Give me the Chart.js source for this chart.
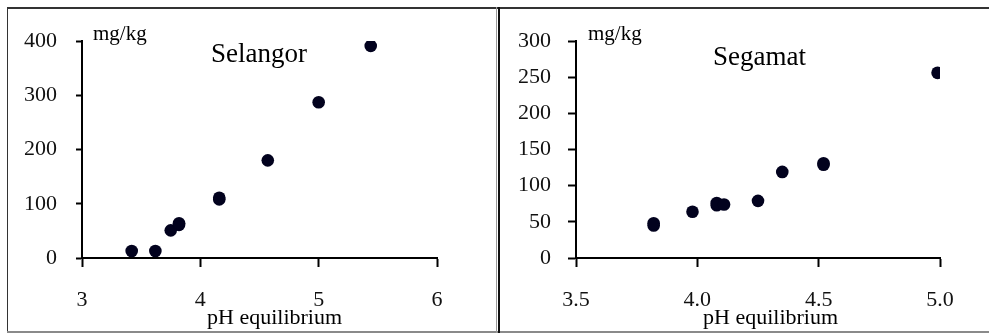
<!DOCTYPE html>
<html>
<head>
<meta charset="utf-8">
<script src="https://cdn.jsdelivr.net/npm/chart.js@4/dist/chart.umd.min.js"></script>
<style>
  html, body { margin: 0; padding: 0; background: #fff; }
  body { width: 989px; height: 333px; position: relative; overflow: hidden; font-family: "Liberation Serif", "Times New Roman", serif; color: #000; }
  canvas { position: absolute; top: 0; }
  .txt { position: absolute; white-space: nowrap; line-height: 1; }
  .line { position: absolute; }
</style>
</head>
<body>
<canvas id="c1" width="495" height="333" style="left:0px"></canvas>
<canvas id="c2" width="494" height="333" style="left:495px"></canvas>

<div class="line" style="left:7px; top:7px; width:982px; height:2px; background:#333;"></div>
<div class="line" style="left:7px; top:7px; width:1px; height:325px; background:#333;"></div>
<div class="line" style="left:7px; top:331px; width:982px; height:2px; background:#8a8a8a;"></div>
<div class="line" style="left:496px; top:7px; width:1px; height:326px; background:#999;"></div>
<div class="line" style="left:498px; top:7px; width:2px; height:326px; background:#111;"></div>

<div class="txt" style="left:93px; top:23px; font-size:21px;">mg/kg</div>
<div class="txt" style="left:211px; top:40px; font-size:27px;">Selangor</div>
<div class="txt" style="left:207px; top:306px; font-size:22px;">pH equilibrium</div>

<div class="txt" style="left:588px; top:23px; font-size:21px;">mg/kg</div>
<div class="txt" style="left:713px; top:43px; font-size:27px;">Segamat</div>
<div class="txt" style="left:703px; top:306px; font-size:22px;">pH equilibrium</div>

<script>
// Selangor data (pH equilibrium vs mg/kg)
const selangorPH  = [3.42, 3.62, 3.75, 3.82, 3.82, 4.16, 4.16, 4.57, 5.00, 5.44];
const selangorVal = [13,   13,   51,   61,   64,   108,  111,  180,  287,  391];
const selangorXTicks = [3, 4, 5, 6];
const selangorYTicks = [0, 100, 200, 300, 400];

// Segamat data
const segamatPH  = [3.82, 3.82, 3.98, 4.08, 4.08, 4.11, 4.25, 4.35, 4.52, 4.52, 4.99];
const segamatVal = [45,   48,   64,   73,   76,   74,   79,   119,  129,  131,  256];
const segamatXTicks = [3.5, 4.0, 4.5, 5.0];
const segamatYTicks = [0, 50, 100, 150, 200, 250, 300];

const tickFont = { family: "'Liberation Serif', 'Times New Roman', serif", size: 22 };

function makeChart(id, xs, ys, xTicks, yTicks, xDecimals, area) {
  const data = xs.map((x, i) => ({ x: x, y: ys[i] }));
  return new Chart(document.getElementById(id), {
    type: 'scatter',
    data: { datasets: [{ data: data, pointRadius: 6.3, pointHoverRadius: 6.3,
      backgroundColor: '#02021e', borderColor: '#02021e', borderWidth: 0 }] },
    options: {
      responsive: false, animation: false, devicePixelRatio: 1,
      plugins: { legend: { display: false }, tooltip: { enabled: false } },
      layout: { padding: { left: 0, top: area.top, right: area.right, bottom: 0 } },
      scales: {
        x: {
          type: 'linear', min: xTicks[0], max: xTicks[xTicks.length - 1],
          afterBuildTicks: s => { s.ticks = xTicks.map(v => ({ value: v })); },
          afterFit: s => { s.height = 333 - area.bottom; },
          ticks: { font: tickFont, color: '#111', padding: 20, maxRotation: 0,
            callback: v => Number(v).toFixed(xDecimals) },
          grid: { display: true, drawOnChartArea: false, drawTicks: true, tickLength: 9, color: '#000', tickWidth: 2 },
          border: { display: true, color: '#000', width: 2 }
        },
        y: {
          type: 'linear', min: yTicks[0], max: yTicks[yTicks.length - 1],
          afterBuildTicks: s => { s.ticks = yTicks.map(v => ({ value: v })); },
          afterFit: s => { s.width = area.left; },
          ticks: { font: tickFont, color: '#111', padding: area.ypad },
          grid: { display: true, drawOnChartArea: false, drawTicks: true, tickLength: area.ytl, color: '#000', tickWidth: 2 },
          border: { display: true, color: '#000', width: 2 }
        }
      }
    }
  });
}

makeChart('c1', selangorPH, selangorVal, selangorXTicks, selangorYTicks, 0,
  { left: 82, top: 41, right: 58, bottom: 258, ytl: 6, ypad: 19 });
makeChart('c2', segamatPH, segamatVal, segamatXTicks, segamatYTicks, 1,
  { left: 81, top: 41, right: 49, bottom: 258, ytl: 8, ypad: 17 });
</script>
</body>
</html>
